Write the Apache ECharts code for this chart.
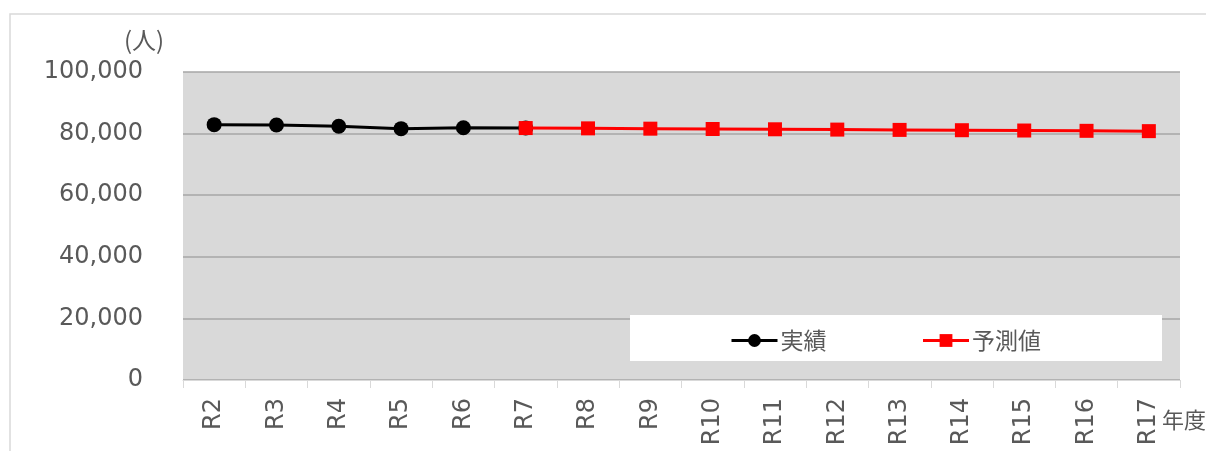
<!DOCTYPE html>
<html><head><meta charset="utf-8">
<script src="https://cdn.jsdelivr.net/npm/echarts@6/dist/echarts.min.js"></script>
<style>html,body{margin:0;padding:0;background:#fff}#c{width:1206px;height:451px}</style>
</head><body><div id="c"></div>
<script>
const categories = ['R2','R3','R4','R5','R6','R7','R8','R9','R10','R11','R12','R13','R14','R15','R16','R17'];
const actual = [82900, 82800, 82400, 81600, 81900, 81800, null, null, null, null, null, null, null, null, null, null];
const forecast = [null, null, null, null, null, 81800, 81700, 81600, 81500, 81400, 81300, 81200, 81100, 81000, 80900, 80800];
const yTicks = [0, 20000, 40000, 60000, 80000, 100000];
const font = 'DejaVu Sans, Verdana, sans-serif';
const cjk = '"Noto Sans CJK JP", sans-serif';
const txt = '#595959';
const chart = echarts.init(document.getElementById('c'));
chart.setOption({
  animation: false,
  graphic: [
    {type:'rect', shape:{x:10,y:14,width:1300,height:500}, style:{fill:'none',stroke:'#d9d9d9',lineWidth:1.5}, z:0},
    {type:'rect', shape:{x:630,y:315,width:532,height:46}, style:{fill:'#ffffff'}, z:3},
    {type:'text', x:124, y:28, style:{text:'(人)', font:'24px ' + cjk, fill:txt}, z:5},
    {type:'text', x:1162, y:409, style:{text:'年度', font:'22px ' + cjk, fill:txt}, z:5}
  ],
  grid: {left:183, right:26, top:72, bottom:71, show:true, backgroundColor:'#d9d9d9', borderWidth:0},
  legend: {
    left:725, top:324, z:4, itemGap:95, itemWidth:46, itemHeight:16,
    lineStyle:{width:3},
    textStyle:{color:txt, fontSize:23, fontFamily:cjk, padding:[0,0,0,-2]},
    data:['実績','予測値']
  },
  xAxis: {
    type:'category', data:categories, boundaryGap:true,
    axisLine:{lineStyle:{color:'#d9d9d9', width:1}},
    axisTick:{show:true, length:8, lineStyle:{color:'#d9d9d9'}},
    axisLabel:{rotate:90, margin:18, color:txt, fontSize:24, fontFamily:font}
  },
  yAxis: {
    type:'value', min:0, max:100000, interval:20000,
    axisLine:{show:false}, axisTick:{show:false},
    axisLabel:{margin:40, color:txt, fontSize:24, fontFamily:font,
      formatter:v=>v.toLocaleString('en-US')},
    splitLine:{lineStyle:{color:'#a6a6a6', width:1.5}}
  },
  series: [
    {name:'実績', type:'line', data:actual, connectNulls:false,
     symbol:'circle', symbolSize:15, lineStyle:{color:'#000', width:3},
     itemStyle:{color:'#000'}, z:3},
    {name:'予測値', type:'line', data:forecast,
     symbol:'rect', symbolSize:14, lineStyle:{color:'#ff0000', width:3},
     itemStyle:{color:'#ff0000'}, z:4}
  ]
});
</script></body></html>
